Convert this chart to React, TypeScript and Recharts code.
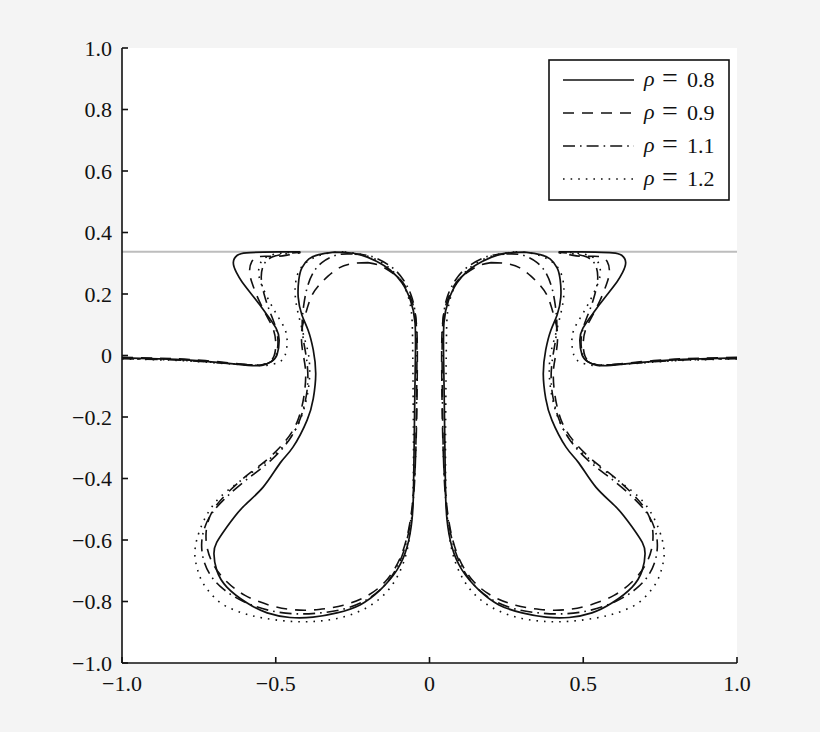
import React from "react";
import { LineChart, Line, XAxis, YAxis, CartesianGrid, ReferenceLine } from "recharts";

// outlines of the left half as [x, y]; the right half is its mirror image
const lip08 = [[-1.0,-0.008],[-0.88,-0.011],[-0.78,-0.015],[-0.67,-0.024],[-0.59,-0.032],[-0.545,-0.032],[-0.515,-0.02],[-0.496,0.002],[-0.489,0.05],[-0.499,0.089],[-0.528,0.132],[-0.556,0.17],[-0.584,0.206],[-0.61,0.24],[-0.628,0.27],[-0.638,0.302],[-0.625,0.326],[-0.595,0.334],[-0.54,0.336],[-0.48,0.337],[-0.42,0.337]];
const bulb08 = [[-0.31,0.336],[-0.36,0.328],[-0.392,0.314],[-0.415,0.285],[-0.425,0.246],[-0.427,0.19],[-0.415,0.132],[-0.395,0.083],[-0.378,0.018],[-0.37,-0.06],[-0.378,-0.14],[-0.398,-0.21],[-0.444,-0.298],[-0.486,-0.35],[-0.541,-0.428],[-0.607,-0.493],[-0.659,-0.558],[-0.692,-0.608],[-0.701,-0.645],[-0.692,-0.698],[-0.659,-0.753],[-0.593,-0.805],[-0.528,-0.837],[-0.454,-0.852],[-0.379,-0.851],[-0.301,-0.837],[-0.226,-0.811],[-0.161,-0.763],[-0.106,-0.698],[-0.073,-0.623],[-0.057,-0.535],[-0.052,-0.437],[-0.05,-0.3],[-0.048,-0.145],[-0.046,-0.015],[-0.047,0.106],[-0.062,0.18],[-0.089,0.236],[-0.128,0.278],[-0.171,0.306],[-0.226,0.328],[-0.27,0.335],[-0.31,0.336]];

const lip09 = [[-1.0,-0.006],[-0.88,-0.009],[-0.78,-0.013],[-0.67,-0.022],[-0.59,-0.03],[-0.55,-0.031],[-0.522,-0.022],[-0.505,0.0],[-0.5,0.04],[-0.508,0.085],[-0.53,0.13],[-0.555,0.18],[-0.575,0.23],[-0.585,0.27],[-0.578,0.305],[-0.55,0.322],[-0.5,0.322],[-0.46,0.327],[-0.42,0.334]];
const bulb09 = [[-0.2,0.302],[-0.25,0.299],[-0.294,0.285],[-0.33,0.258],[-0.36,0.228],[-0.385,0.19],[-0.403,0.135],[-0.416,0.075],[-0.412,0.01],[-0.403,-0.05],[-0.408,-0.13],[-0.43,-0.215],[-0.47,-0.28],[-0.53,-0.34],[-0.6,-0.395],[-0.665,-0.455],[-0.708,-0.51],[-0.726,-0.57],[-0.722,-0.63],[-0.7,-0.685],[-0.66,-0.735],[-0.6,-0.78],[-0.52,-0.812],[-0.44,-0.827],[-0.36,-0.826],[-0.28,-0.812],[-0.2,-0.78],[-0.135,-0.725],[-0.09,-0.645],[-0.064,-0.545],[-0.05,-0.42],[-0.043,-0.26],[-0.04,-0.08],[-0.041,0.08],[-0.055,0.17],[-0.085,0.235],[-0.12,0.268],[-0.16,0.292],[-0.2,0.302]];

const lip11 = [[-1.0,-0.01],[-0.88,-0.013],[-0.78,-0.017],[-0.67,-0.025],[-0.59,-0.03],[-0.545,-0.03],[-0.515,-0.02],[-0.498,0.005],[-0.493,0.05],[-0.503,0.1],[-0.522,0.15],[-0.538,0.2],[-0.547,0.25],[-0.54,0.293],[-0.512,0.32],[-0.465,0.331],[-0.42,0.336]];
const bulb11 = [[-0.25,0.33],[-0.3,0.327],[-0.35,0.302],[-0.38,0.266],[-0.398,0.22],[-0.408,0.17],[-0.414,0.11],[-0.41,0.05],[-0.4,-0.01],[-0.396,-0.09],[-0.412,-0.18],[-0.45,-0.265],[-0.515,-0.34],[-0.59,-0.4],[-0.66,-0.46],[-0.712,-0.52],[-0.738,-0.585],[-0.738,-0.65],[-0.715,-0.71],[-0.67,-0.76],[-0.605,-0.8],[-0.525,-0.828],[-0.44,-0.84],[-0.355,-0.837],[-0.27,-0.822],[-0.19,-0.785],[-0.128,-0.725],[-0.085,-0.64],[-0.06,-0.53],[-0.048,-0.4],[-0.043,-0.22],[-0.041,-0.03],[-0.043,0.1],[-0.056,0.185],[-0.083,0.243],[-0.12,0.285],[-0.17,0.315],[-0.21,0.327],[-0.25,0.33]];

const lip12 = [[-1.0,-0.011],[-0.88,-0.014],[-0.78,-0.018],[-0.67,-0.026],[-0.58,-0.031],[-0.53,-0.032],[-0.49,-0.022],[-0.47,0.0],[-0.463,0.04],[-0.47,0.085],[-0.495,0.13],[-0.52,0.175],[-0.542,0.22],[-0.555,0.262],[-0.55,0.3],[-0.525,0.323],[-0.48,0.333],[-0.42,0.337]];
const bulb12 = [[-0.28,0.337],[-0.33,0.333],[-0.38,0.316],[-0.418,0.285],[-0.434,0.245],[-0.437,0.2],[-0.43,0.15],[-0.418,0.1],[-0.405,0.05],[-0.393,0.0],[-0.39,-0.07],[-0.402,-0.15],[-0.43,-0.23],[-0.48,-0.3],[-0.55,-0.36],[-0.625,-0.415],[-0.69,-0.47],[-0.733,-0.535],[-0.757,-0.6],[-0.763,-0.65],[-0.756,-0.69],[-0.742,-0.73],[-0.715,-0.77],[-0.671,-0.81],[-0.606,-0.838],[-0.54,-0.854],[-0.46,-0.864],[-0.38,-0.865],[-0.3,-0.855],[-0.22,-0.828],[-0.15,-0.78],[-0.1,-0.71],[-0.07,-0.62],[-0.056,-0.5],[-0.052,-0.35],[-0.053,-0.15],[-0.055,0.05],[-0.06,0.15],[-0.08,0.22],[-0.115,0.27],[-0.16,0.305],[-0.22,0.328],[-0.28,0.337]];

const rhoLabels = ["0.8", "0.9", "1.1", "1.2"];
const xTicks = [-1, -0.5, 0, 0.5, 1];
const yTicks = [-1, -0.8, -0.6, -0.4, -0.2, 0, 0.2, 0.4, 0.6, 0.8, 1];
const wallY = 0.337;

const SERIES = [
  { lip: lip08, bulb: bulb08, dash: undefined, width: 1.7 },
  { lip: lip09, bulb: bulb09, dash: "11 8", width: 1.6 },
  { lip: lip11, bulb: bulb11, dash: "12 5 1.6 5", width: 1.6 },
  { lip: lip12, bulb: bulb12, dash: "1.6 6", width: 1.6 },
];

const FONT = "'Liberation Serif', 'Times New Roman', serif";
const INK = "#111";

const toPts = (arr: number[][], flip: boolean) =>
  arr.map(([x, y]) => ({ x: flip ? -x : x, y }));

const fmt = (v: number) => (v === 0 ? "0" : v.toFixed(1).replace("-", "\u2212"));

export default function App() {
  const lines: React.ReactNode[] = [];
  SERIES.forEach((s, i) => {
    [false, true].forEach(flip => {
      [s.lip, s.bulb].forEach((part, j) => {
        lines.push(
          <Line
            key={`s${i}-${flip ? "r" : "l"}-${j}`}
            data={toPts(part, flip)}
            dataKey="y"
            type="natural"
            stroke={INK}
            strokeWidth={s.width}
            strokeDasharray={s.dash}
            dot={false}
            activeDot={false}
            legendType="none"
            isAnimationActive={false}
          />
        );
      });
    });
  });

  return (
    <div style={{ position: "absolute", left: 0, top: 0, width: 820, height: 732, background: "#f4f4f4" }}>
      <LineChart width={820} height={732} margin={{ top: 48, right: 83, bottom: 29, left: 62 }}>
        <CartesianGrid horizontal={false} vertical={false} fill="#fff" stroke="none" />
        <XAxis
          dataKey="x"
          type="number"
          domain={[-1, 1]}
          ticks={xTicks}
          tickFormatter={fmt}
          height={40}
          tickSize={-6}
          tickMargin={18}
          axisLine={{ stroke: INK, strokeWidth: 1.6 }}
          tickLine={{ stroke: INK, strokeWidth: 1.6 }}
          tick={{ fill: INK, fontSize: 22, fontFamily: FONT }}
          allowDataOverflow
        />
        <YAxis
          type="number"
          domain={[-1, 1]}
          ticks={yTicks}
          tickFormatter={fmt}
          width={60}
          tickSize={-6}
          tickMargin={16}
          axisLine={{ stroke: INK, strokeWidth: 1.6 }}
          tickLine={{ stroke: INK, strokeWidth: 1.6 }}
          tick={{ fill: INK, fontSize: 22, fontFamily: FONT }}
          allowDataOverflow
        />
        <ReferenceLine y={wallY} stroke="#bdbdbd" strokeWidth={2} />
        {lines}
      </LineChart>
      <svg width={182} height={142} style={{ position: "absolute", left: 548, top: 59 }}>
        <rect x={1} y={1} width={180} height={140} fill="#fff" stroke={INK} strokeWidth={1.6} />
        {SERIES.map((s, i) => (
          <g key={i} fontFamily={FONT} fill={INK}>
            <line x1={15} x2={86} y1={21 + i * 33} y2={21 + i * 33} stroke={INK} strokeWidth={s.width} strokeDasharray={s.dash} />
            <text x={96} y={27 + i * 33} fontSize={22} fontStyle="italic">ρ</text>
            <text x={114} y={28 + i * 33} fontSize={28}>=</text>
            <text x={139} y={28 + i * 33} fontSize={22}>{rhoLabels[i]}</text>
          </g>
        ))}
      </svg>
    </div>
  );
}
